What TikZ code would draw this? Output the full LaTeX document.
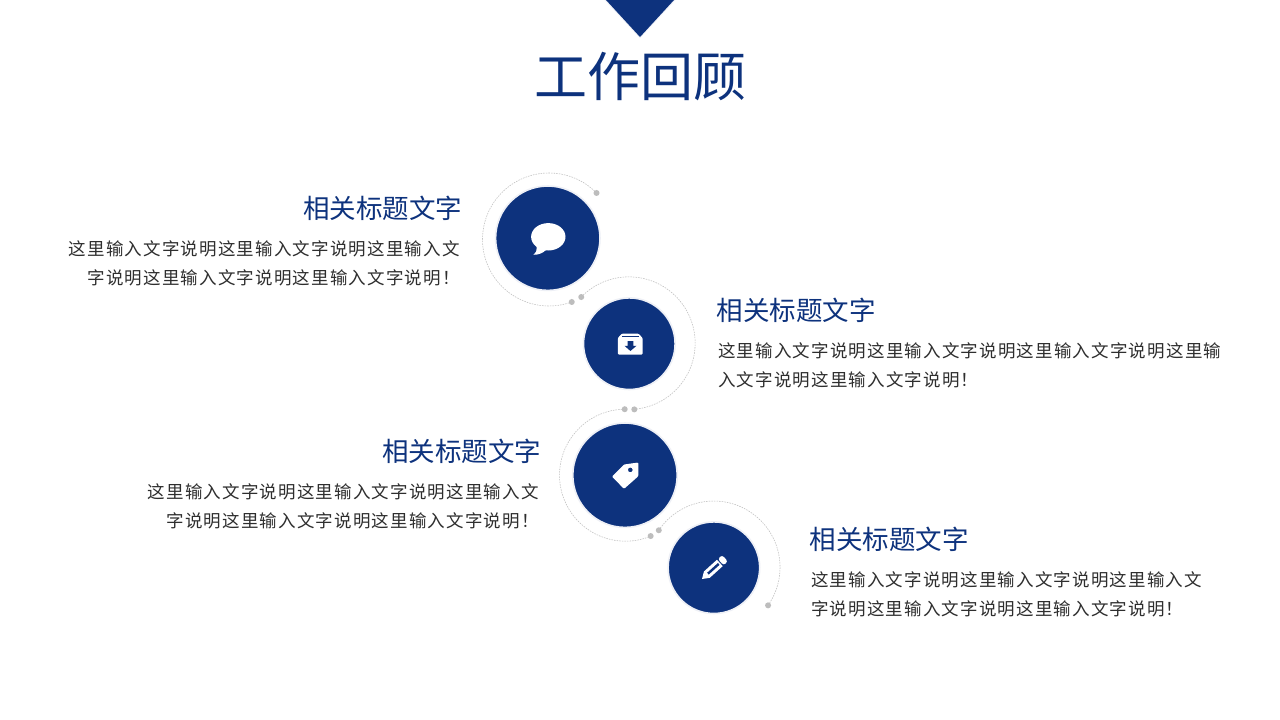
\documentclass[tikz,border=0pt]{standalone}
\usepackage{fontspec}
\setmainfont{Noto Sans CJK SC}
\newfontfamily\bodyf[LetterSpace=6.7]{Noto Sans CJK SC}
\usetikzlibrary{calc}
\definecolor{navy}{HTML}{0D327D}
\definecolor{halo}{HTML}{EEF0F6}
\definecolor{trail}{HTML}{BEBEBE}
\definecolor{dotc}{HTML}{BDBDBD}
\definecolor{bodytxt}{HTML}{2E2E2E}
\tikzset{
  x=1pt,y=1pt,
  bigdisc/.style={circle,fill=navy,draw=halo,line width=1.6pt,minimum size=104.4pt,inner sep=0pt},
  smalldisc/.style={circle,fill=navy,draw=halo,line width=1.6pt,minimum size=91.6pt,inner sep=0pt},
  dotn/.style={circle,fill=dotc,minimum size=6pt,inner sep=0pt},
  trailline/.style={draw=trail,line width=0.55pt,dash pattern=on 1.5pt off 1.1pt},
  head/.style={inner sep=0pt,text=navy,font=\fontsize{26.5}{30}\selectfont},
  bodyt/.style={inner sep=0pt,text=bodytxt,font=\bodyf\fontsize{17.5}{29}\selectfont},
}
\begin{document}
\begin{tikzpicture}
\useasboundingbox (0,0) rectangle (1280,-720);
\fill[white] (0,0) rectangle (1280,-720);
% top triangle
\fill[halo] (604.5,0) -- (640,-38.2) -- (675.5,0) -- cycle;
\fill[navy] (606,0) -- (640,-37) -- (674,0) -- cycle;
\node[inner sep=0pt,text=navy,font=\fontsize{53}{60}\selectfont] (title) at (640,-77) {工作回顾};
% arc centres
\coordinate (a1) at (549,-239.5);
\coordinate (a2) at (629,-343.3);
\coordinate (a3) at (625.5,-475);
\coordinate (a4) at (714,-567.5);
% discs
\node[bigdisc] (c1) at (547.8,-238.2) {};
\node[smalldisc] (c2) at (629.3,-343.7) {};
\node[bigdisc] (c3) at (625,-475.2) {};
\node[smalldisc] (c4) at (713.9,-567.7) {};
% dots
\node[dotn] (d1s) at ([shift={(44.4:66.5)}]a1) {};
\node[dotn] (d1e) at ([shift={(290:66.5)}]a1) {};
\node[dotn] (d2s) at ([shift={(135.9:66.5)}]a2) {};
\node[dotn] (d2e) at ([shift={(-85.4:66.3)}]a2) {};
\node[dotn] (d3s) at ([shift={(90.7:65.8)}]a3) {};
\node[dotn] (d3e) at ([shift={(292.4:66)}]a3) {};
\node[dotn] (d4s) at ([shift={(146:66.6)}]a4) {};
\node[dotn] (d4e) at ([shift={(-35:66)}]a4) {};
% trails
\draw[trailline] (d1s.center) arc[start angle=44.4,end angle=290,radius=66.5];
\draw[trailline] (d2s.center) arc[start angle=135.9,end angle=-85.4,radius=66.3];
\draw[trailline] (d3s.center) arc[start angle=90.7,end angle=292.4,radius=66];
\draw[trailline] (d4s.center) arc[start angle=146,end angle=-35,radius=66.3];
% speech icon
\fill[white] (548.3,-236.8) ellipse[x radius=17.2,y radius=13.7];
\fill[white] (536.5,-245.5) .. controls (537,-250.5) and (536,-253.5) .. (533.5,-254.8) .. controls (538,-255) and (543,-253) .. (546,-250) -- cycle;
% archive icon
\fill[white,rounded corners=1pt] (617.8,-338) -- (622,-333.6) -- (638.5,-333.6) -- (642.6,-338) -- (642.6,-354.5) -- (617.8,-354.5) -- cycle;
\fill[navy] (621.7,-336.2) rectangle (639,-337.4);
\fill[navy] (627.5,-341.2) -- (633.3,-341.2) -- (633.3,-345.8) -- (636.5,-345.8) -- (630.4,-351) -- (624.5,-345.8) -- (627.5,-345.8) -- cycle;
% tag icon
\fill[white,rounded corners=1pt,even odd rule] (612,-476.5) -- (624,-464.5) -- (638.3,-462.5) -- (638.3,-476.2) -- (624,-488.9) -- cycle (630.3,-469.9) circle[radius=2.4];
% pencil icon
\begin{scope}[shift={(702,-579)},rotate=42]
  \fill[white] (0,0) -- (6.5,-4.3) -- (24,-4.3) -- (24,4.3) -- (6.5,4.3) -- cycle;
  \fill[white,rounded corners=2.5pt] (25.2,-4.3) -- (31,-4.3) -- (31,4.3) -- (25.2,4.3) -- cycle;
  \fill[navy] (8,-1.2) rectangle (22.5,1.2);
\end{scope}
% texts
\node[head,anchor=east] (h1) at (462.5,-208) {相关标题文字};
\node[bodyt,anchor=east,align=right] (b1) at (460,-263.7) {这里输入文字说明这里输入文字说明这里输入文\\字说明这里输入文字说明这里输入文字说明！};
\node[head,anchor=west] (h2) at (716.5,-310) {相关标题文字};
\node[bodyt,anchor=west,align=left] (b2) at (718,-365.7) {这里输入文字说明这里输入文字说明这里输入文字说明这里输\\入文字说明这里输入文字说明！};
\node[head,anchor=east] (h3) at (541.5,-451) {相关标题文字};
\node[bodyt,anchor=east,align=right] (b3) at (539,-506.7) {这里输入文字说明这里输入文字说明这里输入文\\字说明这里输入文字说明这里输入文字说明！};
\node[head,anchor=west] (h4) at (809.5,-539) {相关标题文字};
\node[bodyt,anchor=west,align=left] (b4) at (811,-594.7) {这里输入文字说明这里输入文字说明这里输入文\\字说明这里输入文字说明这里输入文字说明！};
\end{tikzpicture}
\end{document}
